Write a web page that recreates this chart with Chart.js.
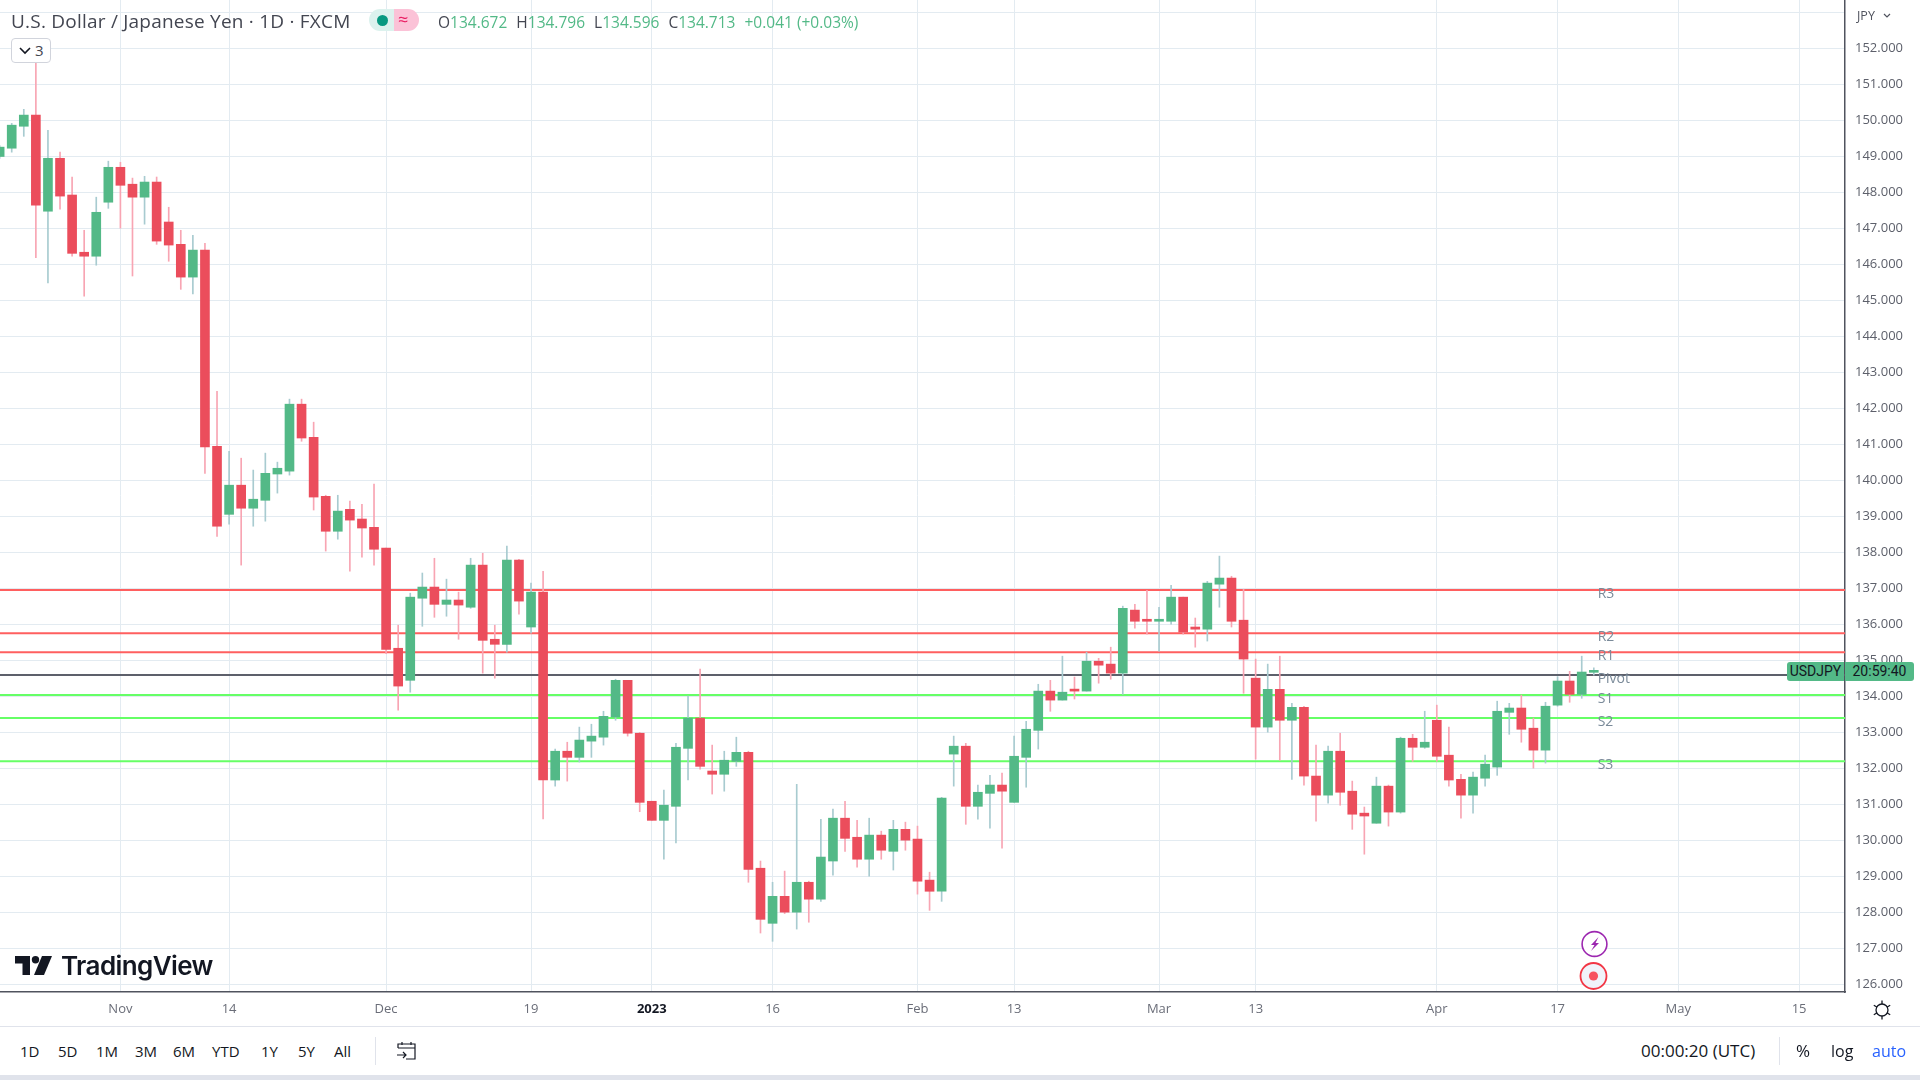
<!DOCTYPE html>
<html>
<head>
<meta charset="utf-8">
<title>USDJPY</title>
<script src="https://cdn.jsdelivr.net/npm/chart.js@4"></script>
<style>
  html, body { margin: 0; width: 1920px; height: 1080px; background: #fff; overflow: hidden; font-family: "Open Sans", sans-serif; color: #131722; }
  #chart { position: absolute; left: 0; top: 0; }
  .abs { position: absolute; white-space: nowrap; }
  .range { top: 1042px; font-size: 15px; line-height: 18px; color: #131722; }
  .ohlc b { font-weight: 400; color: #434651; margin-left: 5px; }
  .ohlc b:first-child { margin-left: 0; }
  .ohlc { left: 438px; top: 13px; font-size: 15.5px; line-height: 18px; color: #53b987; }
  svg { position: absolute; overflow: visible; }
</style>
</head>
<body>
<canvas id="chart" width="1920" height="1027"></canvas>

<div class="abs" style="left:11px;top:10px;font-size:19px;line-height:22px;letter-spacing:0.22px;color:#434651">U.S. Dollar / Japanese Yen · 1D · FXCM</div>

<!-- market status pill -->
<div class="abs" style="left:369px;top:9px;width:25px;height:22px;background:#dcf2ee;border-radius:11px 0 0 11px"></div>
<div class="abs" style="left:394px;top:9px;width:25px;height:22px;background:#fbc2d7;border-radius:0 11px 11px 0"></div>
<div class="abs" style="left:377px;top:15px;width:11px;height:11px;background:#089981;border-radius:50%"></div>
<div class="abs" style="left:398px;top:8px;font-size:18px;line-height:22px;color:#e91e63">≈</div>

<div class="abs ohlc"><b>O</b>134.672 <b>H</b>134.796 <b>L</b>134.596 <b>C</b>134.713 <span style="margin-left:5px">+0.041 (+0.03%)</span></div>

<!-- collapse button -->
<div class="abs" style="left:11px;top:38px;width:38px;height:23px;background:#fff;border:1px solid #d1d4dc;border-radius:4px"></div>
<svg style="left:19px;top:47px" width="12" height="8"><path d="M1 1 L6 6 L11 1" fill="none" stroke="#131722" stroke-width="1.6"/></svg>
<div class="abs" style="left:35px;top:41px;font-size:15px;line-height:18px;color:#434651">3</div>

<div class="abs" style="left:1857px;top:8px;font-size:12.5px;line-height:16px;color:#50535e">JPY</div>
<svg style="left:1883px;top:13px" width="8" height="6"><path d="M1 1 L4 4 L7 1" fill="none" stroke="#50535e" stroke-width="1.2"/></svg>

<!-- last price label -->
<div class="abs" style="left:1787px;top:662px;width:57px;height:19px;background:#53b987;border-radius:3px 0 0 3px;font-family:Roboto;font-size:14px;line-height:19px;text-align:center">USDJPY</div>
<div class="abs" style="left:1845px;top:662px;width:69px;height:19px;background:#53b987;border-radius:0 3px 3px 0;font-family:Roboto;font-size:14px;line-height:19px;text-align:center">20:59:40</div>

<!-- lightning and record markers -->
<svg style="left:1581px;top:930px" width="28" height="28"><circle cx="13.5" cy="14" r="12.4" fill="#fff" stroke="#9c27b0" stroke-width="1.6"/><path d="M17.5 7 L10 15 L13.5 15 L10 21 L18 13 L14.5 13 Z" fill="#9c27b0"/></svg>
<svg style="left:1579px;top:961px" width="30" height="30"><circle cx="14.5" cy="15" r="13" fill="#f0f3fa" stroke="#f23645" stroke-width="1.8"/><circle cx="14.5" cy="15" r="4.6" fill="#f7525f"/></svg>

<!-- TradingView logo -->
<svg style="left:15px;top:956px" width="38" height="20" viewBox="0 0 38 20"><path d="M0 0 H15 V19 H7.5 V7.5 H0 Z" fill="#131722"/><circle cx="20.5" cy="3.7" r="3.7" fill="#131722"/><path d="M27 0 H37 L29 19 H19 Z" fill="#131722"/></svg>
<div class="abs" style="left:61px;top:949px;font-family:Inter,sans-serif;font-size:26px;line-height:34px;font-weight:600;letter-spacing:-0.6px;color:#131722">TradingView</div>

<!-- gear button -->
<svg style="left:1871px;top:1000px" width="22" height="20" viewBox="0 0 22 20"><circle cx="11" cy="10" r="6" fill="none" stroke="#131722" stroke-width="1.3"/><path d="M11 0.5V4 M11 16V19.5 M2.8 5.2L5.8 7 M16.2 13L19.2 14.8 M2.8 14.8L5.8 13 M16.2 7L19.2 5.2" stroke="#131722" stroke-width="1.3"/></svg>

<!-- bottom toolbar -->
<div class="abs" style="left:0;top:1026px;width:1920px;height:1px;background:#e0e3eb"></div>
<div class="abs range" style="left:20px">1D</div>
<div class="abs range" style="left:58px">5D</div>
<div class="abs range" style="left:96px">1M</div>
<div class="abs range" style="left:135px">3M</div>
<div class="abs range" style="left:173px">6M</div>
<div class="abs range" style="left:212px">YTD</div>
<div class="abs range" style="left:261px">1Y</div>
<div class="abs range" style="left:298px">5Y</div>
<div class="abs range" style="left:334px">All</div>
<div class="abs" style="left:375px;top:1037px;width:1px;height:28px;background:#e0e3eb"></div>
<svg style="left:396px;top:1041px" width="22" height="20" viewBox="0 0 22 20"><path d="M2 7V3H19V18H10 M2 7H19 M6 1V4 M15 1V4 M1 14H10 M7 11L10 14L7 17" fill="none" stroke="#131722" stroke-width="1.2"/></svg>
<div class="abs range" style="left:1641px;font-size:17px">00:00:20 (UTC)</div>
<div class="abs" style="left:1779px;top:1037px;width:1px;height:28px;background:#e0e3eb"></div>
<div class="abs range" style="left:1796px;font-size:17px">%</div>
<div class="abs range" style="left:1831px;font-size:16px">log</div>
<div class="abs range" style="left:1872px;font-size:16px;color:#2962ff">auto</div>
<div class="abs" style="left:0;top:1075px;width:1920px;height:5px;background:#e0e3eb"></div>

<script>
// Daily candles, oldest first
const opens = [
  149.0, 149.23, 149.84, 150.15, 147.48, 148.95, 147.93, 146.34, 146.23, 147.73,
  148.7, 148.23, 147.87, 148.29, 147.18, 146.56, 145.65, 146.4, 140.95, 139.06,
  139.87, 139.23, 139.45, 140.18, 140.26, 142.12, 141.2, 139.56, 138.59, 139.2,
  138.93, 138.7, 138.12, 135.34, 134.45, 136.73, 137.04, 136.56, 136.68, 136.48,
  137.65, 135.59, 135.45, 137.79, 135.93, 136.9, 131.68, 132.48, 132.31, 132.76,
  132.87, 133.43, 134.45, 132.98, 131.09, 130.56, 130.95, 132.56, 133.4, 131.93,
  131.84, 132.2, 132.45, 129.23, 127.7, 128.45, 128.01, 128.84, 128.37, 129.43,
  130.62, 130.09, 129.48, 130.15, 129.7, 130.31, 130.04, 128.9, 128.59, 132.4,
  132.62, 130.95, 131.31, 131.54, 131.06, 132.31, 133.06, 134.15, 133.9, 134.2,
  134.15, 134.98, 134.9, 134.65, 136.4, 136.12, 136.09, 136.09, 136.76, 135.93,
  135.87, 137.12, 137.29, 136.12, 134.51, 133.15, 134.2, 133.34, 133.7, 131.79,
  131.26, 132.48, 131.37, 130.76, 130.48, 131.51, 130.79, 132.84, 132.59, 133.34,
  132.37, 131.7, 131.26, 131.73, 132.04, 133.56, 133.68, 133.12, 132.51, 133.76,
  134.43, 134.06, 134.672
];
const highs = [
  149.3, 149.92, 150.31, 151.9, 149.73, 149.12, 148.43, 146.95, 147.87, 148.87,
  148.84, 148.4, 148.45, 148.43, 147.59, 146.95, 146.81, 146.59, 142.48, 140.81,
  140.62, 140.29, 140.76, 140.51, 142.26, 142.26, 141.62, 139.59, 139.59, 139.43,
  139.34, 139.9, 138.12, 135.98, 136.87, 137.43, 137.84, 137.26, 136.9, 137.84,
  137.98, 135.98, 138.18, 137.81, 137.15, 137.48, 132.54, 132.73, 133.15, 133.23,
  133.59, 134.48, 134.45, 133.0, 131.09, 131.4, 132.7, 134.01, 134.76, 132.65,
  132.48, 132.87, 132.48, 129.43, 128.84, 129.15, 131.56, 128.87, 130.59, 130.87,
  131.09, 130.56, 130.62, 130.26, 130.56, 130.51, 130.4, 129.12, 131.2, 132.9,
  132.7, 131.54, 131.81, 131.87, 132.9, 133.31, 134.34, 134.45, 135.12, 134.54,
  135.23, 135.06, 135.37, 136.51, 136.56, 136.95, 136.48, 137.09, 136.76, 136.18,
  137.2, 137.9, 137.34, 136.98, 135.04, 134.9, 135.12, 133.81, 133.73, 132.65,
  132.62, 132.98, 131.65, 130.93, 131.76, 131.54, 132.87, 132.95, 133.59, 133.76,
  133.15, 131.84, 131.9, 132.37, 133.87, 133.81, 134.04, 133.4, 133.84, 134.55,
  134.7, 135.12, 134.796
];
const lows = [
  148.95, 149.12, 149.56, 146.19, 145.49, 147.54, 146.23, 145.12, 145.98, 147.56,
  147.01, 145.68, 147.12, 146.56, 146.09, 145.31, 145.18, 140.2, 138.45, 138.79,
  137.65, 138.73, 138.87, 139.65, 140.15, 141.09, 139.18, 138.04, 138.37, 137.48,
  137.87, 137.65, 135.19, 133.62, 134.12, 135.95, 136.2, 136.23, 135.59, 136.45,
  134.65, 134.51, 135.23, 136.29, 135.76, 130.6, 131.51, 131.65, 132.18, 132.31,
  132.65, 133.34, 132.9, 130.8, 130.56, 129.48, 129.93, 131.68, 131.98, 131.29,
  131.37, 132.06, 128.84, 127.43, 127.2, 127.97, 127.54, 127.73, 128.31, 129.04,
  129.7, 129.26, 129.01, 129.48, 129.18, 129.73, 128.51, 128.06, 128.31, 131.51,
  130.45, 130.59, 130.34, 129.79, 131.06, 131.48, 132.54, 133.59, 133.9, 133.93,
  134.15, 134.37, 134.48, 134.06, 135.9, 135.73, 135.26, 136.01, 135.73, 135.37,
  135.54, 136.48, 135.93, 134.09, 132.26, 133.01, 132.23, 131.7, 131.54, 130.54,
  131.04, 130.98, 130.31, 129.62, 130.48, 130.4, 130.76, 132.2, 132.56, 132.2,
  131.51, 130.62, 130.76, 131.51, 131.81, 132.95, 132.73, 132.01, 132.15, 133.73,
  133.84, 133.95, 134.596
];
const closes = [
  149.26, 149.87, 150.15, 147.65, 148.95, 147.9, 146.31, 146.23, 147.45, 148.7,
  148.2, 147.87, 148.29, 146.65, 146.54, 145.65, 146.4, 140.93, 138.73, 139.87,
  139.23, 139.48, 140.2, 140.34, 142.12, 141.18, 139.54, 138.59, 139.15, 138.9,
  138.68, 138.09, 135.31, 134.29, 136.76, 137.04, 136.56, 136.68, 136.54, 137.65,
  135.56, 135.45, 137.79, 136.65, 136.9, 131.68, 132.48, 132.31, 132.79, 132.9,
  133.45, 134.45, 132.98, 131.06, 130.56, 130.98, 132.59, 133.4, 132.06, 131.84,
  132.23, 132.45, 129.2, 127.81, 128.45, 128.01, 128.84, 128.37, 129.54, 130.62,
  130.06, 129.48, 130.15, 129.73, 130.31, 130.01, 128.87, 128.59, 131.18, 132.62,
  130.95, 131.34, 131.54, 131.37, 132.34, 133.09, 134.15, 133.9, 134.12, 134.15,
  134.98, 134.87, 134.65, 136.45, 136.09, 136.09, 136.12, 136.76, 135.79, 135.87,
  137.15, 137.29, 136.09, 135.04, 133.15, 134.2, 133.34, 133.7, 131.79, 131.26,
  132.48, 131.34, 130.73, 130.68, 131.51, 130.79, 132.84, 132.59, 132.73, 132.34,
  131.68, 131.26, 131.76, 132.12, 133.59, 133.68, 133.09, 132.51, 133.73, 134.43,
  134.06, 134.68, 134.713
];

// Axis ticks, positions are candle numbers (future bars keep counting)
const dateTickIndex = [10, 19, 32, 44, 54, 64, 76, 84, 96, 104, 119, 129, 139, 149];
const dateTickLabels = ["Nov", "14", "Dec", "19", "2023", "16", "Feb", "13", "Mar", "13", "Apr", "17", "May", "15"];
const priceTicks = [126, 127, 128, 129, 130, 131, 132, 133, 134, 135, 136, 137, 138, 139, 140, 141, 142, 143, 144, 145, 146, 147, 148, 149, 150, 151, 152, 153];

// Pivot levels
const levelNames = ["R3", "R2", "R1", "Pivot", "S1", "S2", "S3"];
const levelValues = [136.96, 135.76, 135.23, 134.6, 134.04, 133.4, 132.2];
const levelColors = ["#ff5f5f", "#ff5f5f", "#ff5f5f", "#5d606b", "#66ff66", "#66ff66", "#66ff66"];

const UP = "#53b987";
const DOWN = "#eb4d5c";
const UP_WICK = "#a8cbd0";
const DOWN_WICK = "#f8a5b3";

// Visible window on the candle number axis
const xMin = 0.03;
const xMax = 152.8;

const isUp = opens.map((o, i) => closes[i] >= o);

// Level names next to the last candle
const levelLabels = {
  id: "levelLabels",
  afterDatasetsDraw(chart) {
    const ctx = chart.ctx;
    const x = chart.scales.x.getPixelForValue(132.32);
    ctx.save();
    ctx.font = "14px 'Open Sans'";
    ctx.fillStyle = "#7a8a99";
    ctx.textAlign = "left";
    ctx.textBaseline = "middle";
    levelNames.forEach((name, i) => {
      ctx.fillText(name, x, chart.scales.y.getPixelForValue(levelValues[i]) + 4);
    });
    ctx.restore();
  },
};

const lineDatasets = levelValues.map((v, i) => ({
  type: "line",
  label: levelNames[i],
  data: [{ x: xMin, y: v }, { x: xMax, y: v }],
  borderColor: levelColors[i],
  borderWidth: 2,
  pointRadius: 0,
  order: 3,
}));

new Chart(document.getElementById("chart"), {
  type: "bar",
  data: {
    datasets: [
      ...lineDatasets,
      {
        label: "Wicks",
        data: lows.map((l, i) => ({ x: i, y: [l, highs[i]] })),
        backgroundColor: isUp.map((u) => (u ? UP_WICK : DOWN_WICK)),
        barThickness: 1,
        grouped: false,
        order: 2,
      },
      {
        label: "Bodies",
        data: opens.map((o, i) => ({ x: i, y: [o, closes[i]] })),
        backgroundColor: isUp.map((u) => (u ? UP : DOWN)),
        barThickness: 9,
        minBarLength: 2,
        grouped: false,
        order: 1,
      },
    ],
  },
  options: {
    responsive: false,
    animation: false,
    devicePixelRatio: 1,
    layout: { padding: 0 },
    plugins: { legend: { display: false }, tooltip: { enabled: false } },
    scales: {
      x: {
        type: "linear",
        offset: false,
        min: xMin,
        max: xMax,
        afterFit(scale) {
          // no room for half labels at the ends, the plot runs to the edge
          scale.height = 35;
          scale.paddingLeft = 0;
          scale.paddingRight = 0;
        },
        afterBuildTicks(scale) {
          scale.ticks = dateTickIndex.map((v) => ({ value: v }));
        },
        grid: { color: "#e3ebf1", drawTicks: false, offset: false },
        border: { color: "#50535e", width: 1.5 },
        ticks: {
          autoSkip: false,
          maxRotation: 0,
          padding: 9,
          color: (c) => (c.index === 4 ? "#131722" : "#6a6d78"),
          font: (c) => ({ family: "Open Sans", size: 13, weight: c.index === 4 ? "bold" : "normal" }),
          callback: (value, index) => dateTickLabels[index],
        },
      },
      y: {
        position: "right",
        min: 125.792,
        max: 153.347,
        afterFit(scale) {
          scale.width = 75;
          scale.paddingTop = 0;
          scale.paddingBottom = 0;
        },
        afterBuildTicks(scale) {
          scale.ticks = priceTicks.map((v) => ({ value: v }));
        },
        grid: { color: "#e3ebf1", drawTicks: false },
        border: { color: "#50535e", width: 1.5 },
        ticks: {
          autoSkip: false,
          padding: 10,
          color: "#5d606b",
          font: { family: "Open Sans", size: 13 },
          // the top line has no label, the currency menu sits there
          callback: (value) => (value === 153 ? "" : value.toFixed(3)),
        },
      },
    },
  },
  plugins: [levelLabels],
});
</script>
</body>
</html>
